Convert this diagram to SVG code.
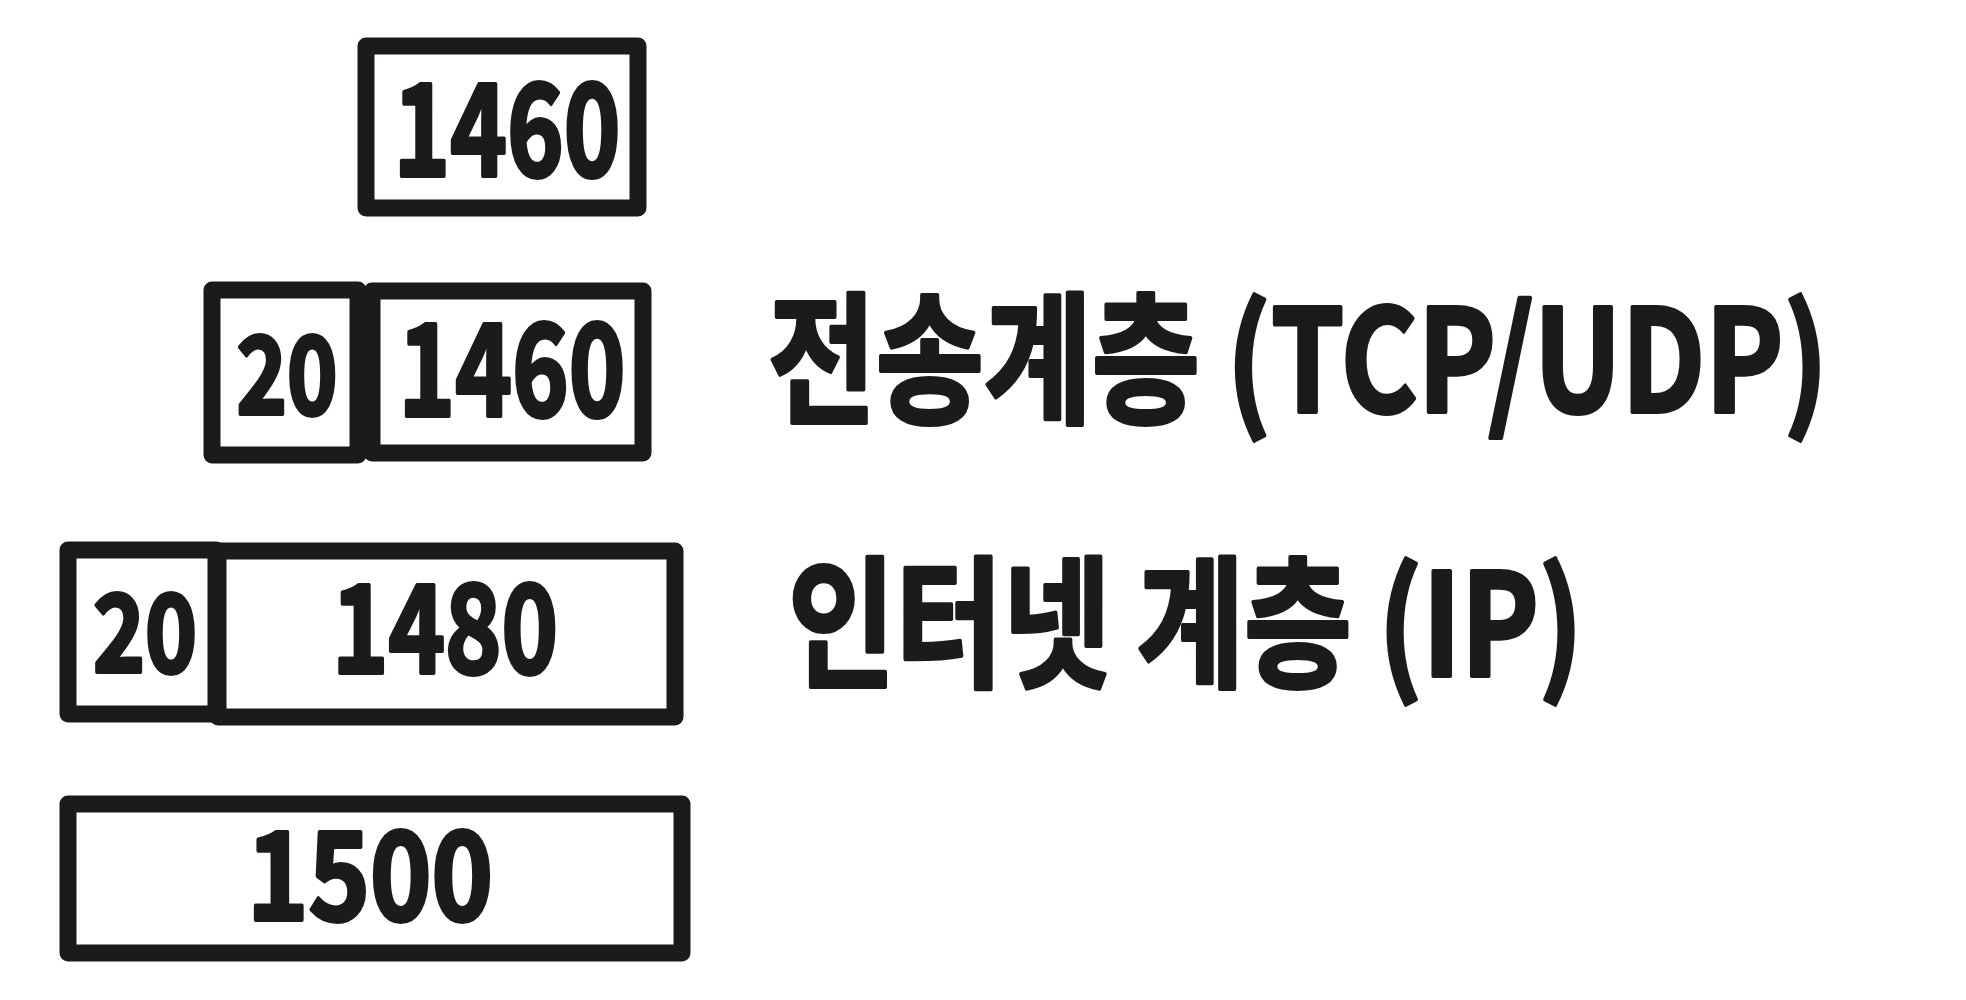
<svg xmlns="http://www.w3.org/2000/svg" width="1966" height="1000" viewBox="0 0 1966 1000">
<style>
.box{fill:#ffffff;stroke:#1c1a1a;stroke-width:17;stroke-linejoin:round}
.t{font-family:"Noto Sans CJK KR","Noto Sans",sans-serif;font-weight:700;fill:#1c1a1a;stroke:#1c1a1a;stroke-width:4;stroke-linejoin:round}
.num{text-anchor:middle;stroke-width:4}
</style>
<rect width="1966" height="1000" fill="#ffffff"/>
<g id="connectors"></g>
<g id="node-app">
<rect class="box" x="366" y="46" width="272" height="162"/>
<text class="t num" x="507" y="176" font-size="128" textLength="227" lengthAdjust="spacingAndGlyphs">1460</text>
</g>
<g id="node-tcp-header">
<rect class="box" x="212" y="290" width="146" height="165"/>
<text class="t num" x="287" y="414" font-size="108" textLength="101" lengthAdjust="spacingAndGlyphs">20</text>
</g>
<g id="node-tcp-data">
<rect class="box" x="372" y="291" width="271" height="162"/>
<text class="t num" x="512" y="416" font-size="128" textLength="227" lengthAdjust="spacingAndGlyphs">1460</text>
</g>
<g id="node-ip-header">
<rect class="box" x="68" y="550" width="148" height="164"/>
<text class="t num" x="145" y="672" font-size="108" textLength="104" lengthAdjust="spacingAndGlyphs">20</text>
</g>
<g id="node-ip-data">
<rect class="box" x="218" y="551" width="457" height="166"/>
<text class="t num" x="445" y="673" font-size="122" textLength="226" lengthAdjust="spacingAndGlyphs">1480</text>
</g>
<g id="node-frame">
<rect class="box" x="68" y="804" width="614" height="149"/>
<text class="t num" x="370" y="920" font-size="122" textLength="246" lengthAdjust="spacingAndGlyphs">1500</text>
</g>
<g id="label-transport">
<text class="t" x="768" y="412" font-size="142" textLength="1060" lengthAdjust="spacingAndGlyphs">전송계층 (TCP/UDP)</text>
</g>
<g id="label-internet">
<text class="t" x="788" y="676" font-size="142" textLength="795" lengthAdjust="spacingAndGlyphs">인터넷 계층 (IP)</text>
</g>
</svg>
